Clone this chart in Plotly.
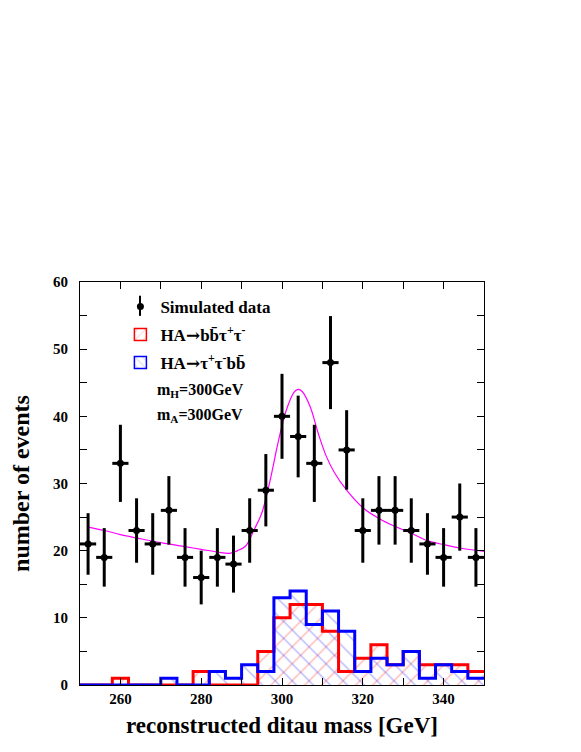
import numpy as np
import plotly.graph_objects as go

# ---- data ----
bin_edges = [250, 254, 258, 262, 266, 270, 274, 278, 282, 286, 290, 294, 298,
             302, 306, 310, 314, 318, 322, 326, 330, 334, 338, 342, 346, 350]
bin_centers = [252, 256, 260, 264, 268, 272, 276, 280, 284, 288, 292, 296, 300,
               304, 308, 312, 316, 320, 324, 328, 332, 336, 340, 344, 348]

data_counts = [21, 19, 33, 23, 21, 26, 19, 16, 19, 18, 23, 29, 40,
               37, 33, 48, 35, 23, 26, 26, 23, 21, 19, 25, 19]

# HA -> b bbar tau+ tau-
red_counts = [0, 0, 1, 0, 0, 0, 0, 2, 0, 0, 0, 5, 10,
              12, 12, 8, 2, 4, 6, 3, 5, 3, 3, 3, 2]
# HA -> tau+ tau- b bbar
blue_counts = [0, 0, 0, 0, 0, 1, 0, 0, 2, 1, 3, 2, 13,
               14, 9, 11, 8, 2, 4, 3, 5, 1, 3, 2, 1]

# fitted curve
fit_x = [252, 256, 260, 264, 268, 272, 276, 280, 284, 287, 289, 291, 293,
         295, 297, 299, 301, 303, 304, 305, 307, 309, 311, 313, 316, 320,
         324, 328, 332, 336, 340, 344, 350]
fit_y = [23.5, 23.0, 22.4, 21.9, 21.4, 21.0, 20.6, 20.2, 19.8, 19.6, 20.0,
         20.7, 23.0, 25.6, 30.3, 36.0, 40.8, 43.6, 44.0, 43.7, 41.4, 37.4,
         34.0, 31.6, 29.0, 26.4, 24.8, 23.6, 22.6, 21.5, 20.9, 20.4, 19.9]

bin_width = 4
data_err = np.sqrt(data_counts)

FONT = "Liberation Serif"
RED = "#ff0000"
BLUE = "#0000ff"
RED_HATCH = "rgba(255,0,0,0.7)"
BLUE_HATCH = "rgba(0,0,255,0.7)"
ARROW = "<span style=\"font-family:'DejaVu Serif'\">\u2192</span>"


def step_xy(counts):
    return bin_edges, list(counts) + [counts[-1]]


fig = go.Figure()

# hatched fills
fig.add_trace(go.Bar(
    x=bin_centers, y=red_counts, width=bin_width,
    marker=dict(color="rgba(0,0,0,0)", line=dict(width=0),
                pattern=dict(shape="/", fgcolor=RED_HATCH,
                             size=12, solidity=0.1)),
    showlegend=False, hoverinfo="skip",
))
fig.add_trace(go.Bar(
    x=bin_centers, y=blue_counts, width=bin_width,
    marker=dict(color="rgba(0,0,0,0)", line=dict(width=0),
                pattern=dict(shape="\\", fgcolor=BLUE_HATCH,
                             size=12, solidity=0.1)),
    showlegend=False, hoverinfo="skip",
))

# outlines
sx, sy = step_xy(red_counts)
fig.add_trace(go.Scatter(x=sx, y=sy, mode="lines", line_shape="hv",
                         line=dict(color=RED, width=3), showlegend=False))
sx, sy = step_xy(blue_counts)
fig.add_trace(go.Scatter(x=sx, y=sy, mode="lines", line_shape="hv",
                         line=dict(color=BLUE, width=3), showlegend=False))

# fit curve
fig.add_trace(go.Scatter(x=fit_x, y=fit_y, mode="lines", line_shape="spline",
                         line=dict(color="#ff00ff", width=1.2),
                         showlegend=False))

# data points
fig.add_trace(go.Scatter(
    x=bin_centers, y=data_counts, mode="markers",
    marker=dict(color="black", size=7),
    error_y=dict(type="data", array=data_err, color="black",
                 thickness=3, width=0),
    error_x=dict(type="constant", value=bin_width / 2, color="black",
                 thickness=3, width=0),
    name="Simulated data", legendgroup="a",
))

# legend-only entries for the histograms
fig.add_trace(go.Bar(
    x=[None], y=[None],
    name="HA" + ARROW + "bb\u0304\u03c4<sup>+</sup>\u03c4<sup>-</sup>",
    legendgroup="b",
    marker=dict(color="rgba(0,0,0,0)", line=dict(color=RED, width=1.5),
                pattern=dict(shape="/", fgcolor=RED_HATCH,
                             size=7, solidity=0.12)),
))
fig.add_trace(go.Bar(
    x=[None], y=[None],
    name="HA" + ARROW + "\u03c4<sup>+</sup>\u03c4<sup>-</sup>bb\u0304",
    legendgroup="c",
    marker=dict(color="rgba(0,0,0,0)", line=dict(color=BLUE, width=1.5),
                pattern=dict(shape="\\", fgcolor=BLUE_HATCH,
                             size=7, solidity=0.12)),
))

# vertical error stroke on the legend's data marker
fig.add_shape(type="line", xref="paper", yref="paper",
              x0=0.1485, x1=0.1485, y0=0.916, y1=0.966,
              line=dict(color="black", width=2))

mass_font = dict(family=FONT, size=16, color="black", weight="bold")
fig.add_annotation(text="m<sub>H</sub>=300GeV", xref="paper", yref="paper",
                   x=0.186, y=0.730, xanchor="left", yanchor="middle",
                   showarrow=False, font=mass_font)
fig.add_annotation(text="m<sub>A</sub>=300GeV", xref="paper", yref="paper",
                   x=0.186, y=0.668, xanchor="left", yanchor="middle",
                   showarrow=False, font=mass_font)

axis_common = dict(
    showline=True, linecolor="black", linewidth=1, mirror="allticks",
    ticks="inside", ticklen=7, tickcolor="black", tickwidth=1,
    showgrid=False, zeroline=False,
    tickfont=dict(family=FONT, size=15, color="black", weight="bold"),
)

# the page body adds an 8px offset, so the figure is 8px smaller each way
fig.update_layout(
    width=573, height=744,
    paper_bgcolor="white", plot_bgcolor="white",
    barmode="overlay", bargap=0,
    margin=dict(l=72, r=97, t=274, b=67),
    showlegend=True,
    legend=dict(
        x=0.1, y=0.983, xanchor="left", yanchor="top",
        bgcolor="rgba(0,0,0,0)", tracegroupgap=3,
        font=dict(family=FONT, size=17, color="black", weight="bold"),
        traceorder="grouped",
    ),
    xaxis=dict(
        range=[250, 350], dtick=20, tick0=260,
        minor=dict(dtick=10, ticks="inside", ticklen=7, tickcolor="black"),
        title=dict(text="reconstructed ditau mass [GeV]", standoff=10,
                   font=dict(family=FONT, size=23, color="black",
                             weight="bold")),
        **axis_common,
    ),
    yaxis=dict(
        range=[0, 60], dtick=10,
        minor=dict(dtick=5, ticks="inside", ticklen=7, tickcolor="black"),
        ticklabelstandoff=8,
        title=dict(text="number of events", standoff=16,
                   font=dict(family=FONT, size=24, color="black",
                             weight="bold")),
        **axis_common,
    ),
)

fig.write_html("out.html")
